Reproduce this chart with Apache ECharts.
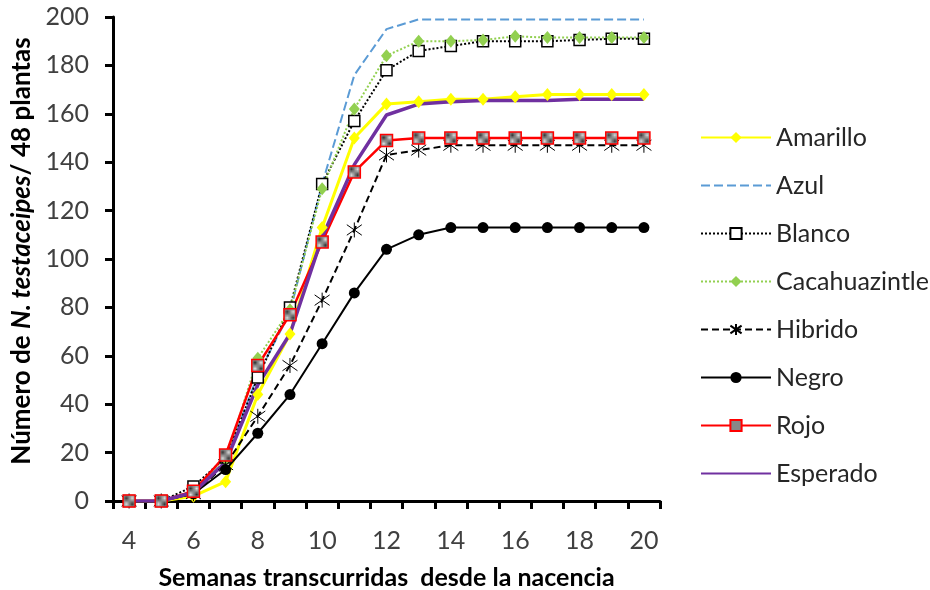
<!DOCTYPE html>
<html>
<head>
<meta charset="utf-8">
<script src="https://cdn.jsdelivr.net/npm/echarts@6/dist/echarts.min.js"></script>
<style>
html,body{margin:0;padding:0;background:#fff;}
#chart{width:930px;height:590px;}
</style>
</head>
<body>
<div id="chart"></div>
<script>
var weeks = ['4','5','6','7','8','9','10','11','12','13','14','15','16','17','18','19','20'];
var amarillo = [0,0,2,8,44,69,113,150,164,165,166,166,167,168,168,168,168];
var azul = [0,0,4,17,52,78,131,176,195,199,199,199,199,199,199,199,199];
var blanco = [0,0,6,18,51,80,131,157,178,186,188,190,190,190,190.5,191,191];
var cacahuazintle = [0,0,4,17,59,79,129,162,184,190,190,190.5,192,191.5,191.5,191.5,191.5];
var hibrido = [0,0,3,15,35,56,83,112,143,145,147,147,147,147,147,147,147];
var negro = [0,0,3,13,28,44,65,86,104,110,113,113,113,113,113,113,113];
var rojo = [0,0,4,19,56,77,107,136,149,150,150,150,150,150,150,150,150];
var esperado = [0,0,3.5,16,48,69,109,139,159.5,164,165,165.5,165.5,165.5,166,166,166];
var yTicks = {min:0, max:200, interval:20};

var FONT = 'Lato';

// checker fill for Rojo markers
var pc = document.createElement('canvas');
pc.width = 2; pc.height = 2;
var pctx = pc.getContext('2d');
pctx.fillStyle = '#e0e0e0'; pctx.fillRect(0,0,2,2);
pctx.fillStyle = '#303030'; pctx.fillRect(0,0,1,1); pctx.fillRect(1,1,1,1);

var chart = echarts.init(document.getElementById('chart'), null, {renderer:'canvas'});

function mk(name, data, color, lineType, width, symbol, size, itemStyle, showSym) {
  return {
    name: name, type: 'line', data: data,
    symbol: symbol, symbolSize: size, showSymbol: showSym !== false,
    lineStyle: {color: color, type: lineType, width: width},
    itemStyle: itemStyle || {color: color},
    emphasis: {disabled: true}
  };
}

var option = {
  animation: false,
  grid: {left: 113, right: 270, top: 17, bottom: 89, outerBoundsMode: 'none', containLabel: false},
  legend: {
    orient: 'vertical', left: 695, top: 120,
    itemWidth: 70, itemHeight: 14, itemGap: 23,
    textStyle: {fontFamily: FONT, fontSize: 25, color: '#262626', lineHeight: 25},
    data: ['Amarillo','Azul','Blanco','Cacahuazintle','Hibrido','Negro','Rojo','Esperado']
  },
  xAxis: {
    type: 'category', data: weeks, boundaryGap: true,
    name: 'Semanas transcurridas  desde la nacencia',
    nameLocation: 'middle', nameGap: 64,
    nameTextStyle: {fontFamily: FONT, fontSize: 25, fontWeight: 'bold', color: '#000'},
    axisLine: {lineStyle: {color: '#000', width: 3}},
    axisTick: {show: true, interval: 0, length: 8, lineStyle: {color: '#000', width: 3}},
    axisLabel: {interval: 1, fontFamily: FONT, fontSize: 25, color: '#404040', margin: 27},
    splitLine: {show: false}
  },
  yAxis: {
    type: 'value', min: yTicks.min, max: yTicks.max, interval: yTicks.interval,
    name: '{b|Número de }{bi|N. testaceipes}{b|/ 48 plantas}',
    nameLocation: 'middle', nameGap: 72, nameRotate: 90,
    nameTextStyle: {
      fontFamily: FONT, fontSize: 26, fontWeight: 'bold', color: '#000',
      padding: [0, 0, 0, 16],
      rich: {
        b: {fontFamily: FONT, fontSize: 26, fontWeight: 'bold', color: '#000'},
        bi: {fontFamily: FONT, fontSize: 26, fontWeight: 'bold', fontStyle: 'italic', color: '#000'}
      }
    },
    axisLine: {show: true, lineStyle: {color: '#000', width: 3}},
    axisTick: {show: true, length: 8, lineStyle: {color: '#000', width: 3}},
    axisLabel: {fontFamily: FONT, fontSize: 25, color: '#404040', margin: 24},
    splitLine: {show: false}
  },
  series: [
    mk('Amarillo', amarillo, '#FFFF00', 'solid', 3, 'diamond', [11,13], {color: '#FFFF00'}),
    mk('Azul', azul, '#5B9BD5', [9,4], 2, 'circle', 1, {color: 'transparent', borderWidth: 0}, false),
    mk('Blanco', blanco, '#000', [2,2], 2, 'rect', 11, {color: '#fff', borderColor: '#000', borderWidth: 1.5}),
    mk('Cacahuazintle', cacahuazintle, '#92D050', [2,2], 2, 'diamond', [11,13], {color: '#92D050'}),
    mk('Hibrido', hibrido, '#000', [7,4], 2, 'path://M0,-10L0,10M-8,-7L8,7M-8,7L8,-7', 15, {color: 'none', borderColor: '#000', borderWidth: 1}),
    mk('Negro', negro, '#000', 'solid', 2, 'circle', 11, {color: '#000'}),
    mk('Rojo', rojo, '#FF0000', 'solid', 2.5, 'rect', 12, {color: {image: pc, repeat: 'repeat'}, borderColor: '#FF0000', borderWidth: 1.5}),
    mk('Esperado', esperado, '#7030A0', 'solid', 3.5, 'circle', 1, {color: 'transparent', borderWidth: 0}, false)
  ]
};
chart.setOption(option);
</script>
</body>
</html>
